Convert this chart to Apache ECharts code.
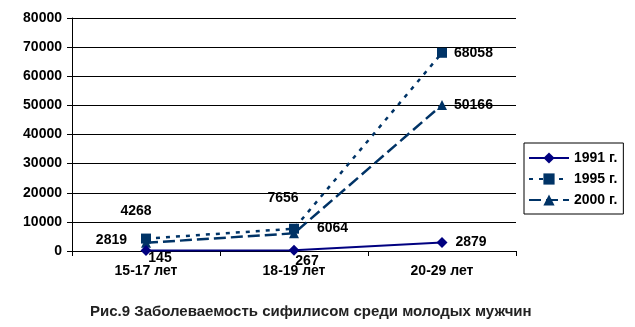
<!DOCTYPE html>
<html>
<head>
<meta charset="utf-8">
<script src="https://cdn.jsdelivr.net/npm/echarts@6/dist/echarts.min.js"></script>
<style>
  html, body { margin: 0; padding: 0; background: #fff; }
  #main { width: 635px; height: 327px; }
</style>
</head>
<body>
<div id="main"></div>
<script>
// данные
var categories = ['15-17 лет', '18-19 лет', '20-29 лет'];
var years = ['1991 г.', '1995 г.', '2000 г.'];
var v1991 = [145, 267, 2879];
var v1995 = [4268, 7656, 68058];
var v2000 = [2819, 6064, 50166];
var yTicks = [0, 10000, 20000, 30000, 40000, 50000, 60000, 70000, 80000];

// положение подписей для каждой точки
var lbl1991 = [
  { position: 'bottom', offset: [14, -10] },
  { position: 'bottom', offset: [13, -7] },
  { position: 'right', offset: [3, 0] }
];
var lbl1995 = [
  { position: 'top', offset: [-10, -10] },
  { position: 'top', offset: [-11, -14] },
  { position: 'right', offset: [2, 0] }
];
var lbl2000 = [
  { position: 'left', offset: [-9, -3] },
  { position: 'right', offset: [13, -5] },
  { position: 'right', offset: [2, 0] }
];

function build (vals, lbls) {
  var out = [];
  for (var i = 0; i < vals.length; i++) {
    out.push({ value: vals[i], label: lbls[i] });
  }
  return out;
}

var txt = { fontFamily: 'Liberation Sans, Arial', fontWeight: 'bold', fontSize: 14, color: '#000' };

var chart = echarts.init(document.getElementById('main'));
chart.setOption({
  animation: false,
  title: {
    text: 'Рис.9 Заболеваемость сифилисом среди молодых мужчин',
    left: 85,
    top: 299,
    textStyle: { fontFamily: 'Liberation Sans, Arial', fontWeight: 'bold', fontSize: 15, color: '#222' }
  },
  grid: { left: 72, right: 119, top: 18, bottom: 76 },
  legend: {
    orient: 'vertical',
    left: 524,
    top: 143,
    width: 100,
    padding: [8, 6, 7, 4],
    itemGap: 7,
    itemWidth: 40,
    itemHeight: 14,
    borderColor: '#000',
    borderWidth: 1,
    borderRadius: 0,
    textStyle: txt,
    data: years
  },
  xAxis: {
    type: 'category',
    data: categories,
    boundaryGap: true,
    axisLine: { lineStyle: { color: '#000', width: 1 } },
    axisTick: { show: true, length: 5, lineStyle: { color: '#000' } },
    axisLabel: Object.assign({ margin: 13 }, txt)
  },
  yAxis: {
    type: 'value',
    min: yTicks[0],
    max: yTicks[yTicks.length - 1],
    interval: yTicks[1] - yTicks[0],
    axisLine: { show: true, lineStyle: { color: '#000' } },
    axisTick: { show: true, length: 5, lineStyle: { color: '#000' } },
    splitLine: { lineStyle: { color: '#000', width: 1 } },
    axisLabel: Object.assign({ margin: 10, formatter: function (v) { return String(v); } }, txt)
  },
  series: [
    {
      name: years[0],
      type: 'line',
      data: build(v1991, lbl1991),
      symbol: 'diamond',
      symbolSize: 11,
      z: 4,
      itemStyle: { color: '#000080' },
      lineStyle: { color: '#000080', width: 2, type: 'solid' },
      label: Object.assign({ show: true }, txt)
    },
    {
      name: years[1],
      type: 'line',
      data: build(v1995, lbl1995),
      symbol: 'rect',
      symbolSize: 10,
      z: 3,
      itemStyle: { color: '#003366' },
      lineStyle: { color: '#003366', width: 2.5, type: [4, 6] },
      label: Object.assign({ show: true }, txt)
    },
    {
      name: years[2],
      type: 'line',
      data: build(v2000, lbl2000),
      symbol: 'triangle',
      symbolSize: 10,
      z: 3,
      itemStyle: { color: '#003366' },
      lineStyle: { color: '#003366', width: 2.5, type: [12, 5] },
      label: Object.assign({ show: true }, txt)
    }
  ]
});
</script>
</body>
</html>
